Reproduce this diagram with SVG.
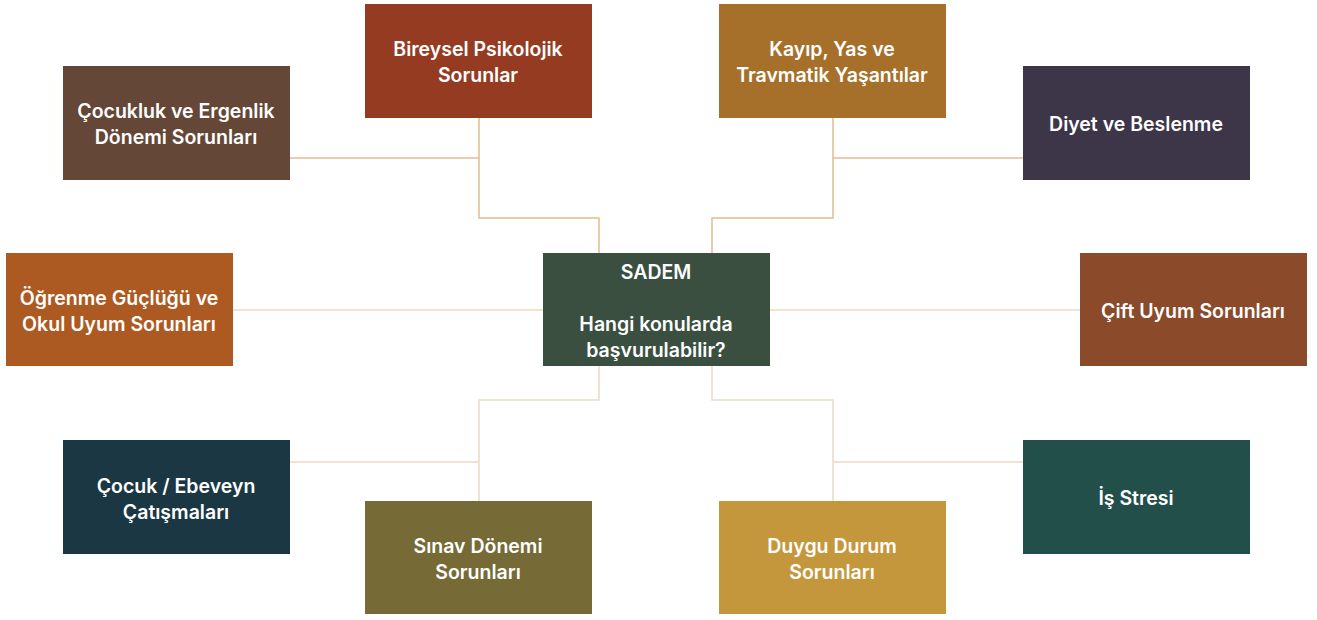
<svg xmlns="http://www.w3.org/2000/svg" width="1317" height="620" viewBox="0 0 1317 620">
<style>
text{font-family:Inter,"Liberation Sans",sans-serif;font-weight:600;font-size:19.5px;fill:#ffffff;text-anchor:middle}
.c1{fill:none;stroke:#e2bd90;stroke-width:1.5}
.c2{fill:none;stroke:#eadbc6;stroke-width:1.5}
</style>
<rect width="1317" height="620" fill="#ffffff"/>
<g id="connectors">
<path class="c1" d="M479 118V218H599V253"/>
<path class="c1" d="M290 158H479"/>
<path class="c1" d="M833 118V218H712V253"/>
<path class="c1" d="M833 158H1023"/>
<path class="c2" d="M233 310H543"/>
<path class="c2" d="M770 310H1080"/>
<path class="c2" d="M599 366V400H479V501"/>
<path class="c2" d="M290 462H479"/>
<path class="c2" d="M712 366V400H833V501"/>
<path class="c2" d="M833 462H1023"/>
</g>
<g id="center"><rect x="543" y="253" width="227" height="113" fill="#3a4f40"/>
<text x="656" y="279">SADEM</text><text x="656" y="331">Hangi konularda</text><text x="656" y="357">başvurulabilir?</text></g>
<g id="n-cocukluk"><rect x="63" y="66" width="227" height="114" fill="#654737"/>
<text x="176" y="118">Çocukluk ve Ergenlik</text><text x="176" y="144">Dönemi Sorunları</text></g>
<g id="n-bireysel"><rect x="365" y="4" width="227" height="114" fill="#953b21"/>
<text x="478" y="56">Bireysel Psikolojik</text><text x="478" y="82">Sorunlar</text></g>
<g id="n-kayip"><rect x="719" y="4" width="227" height="114" fill="#a6702b"/>
<text x="832" y="56">Kayıp, Yas ve</text><text x="832" y="82">Travmatik Yaşantılar</text></g>
<g id="n-diyet"><rect x="1023" y="66" width="227" height="114" fill="#3d3548"/>
<text x="1136" y="131">Diyet ve Beslenme</text></g>
<g id="n-ogrenme"><rect x="6" y="253" width="227" height="113" fill="#ad5922"/>
<text x="119" y="305">Öğrenme Güçlüğü ve</text><text x="119" y="331">Okul Uyum Sorunları</text></g>
<g id="n-cift"><rect x="1080" y="253" width="227" height="113" fill="#8b4a2a"/>
<text x="1193" y="318">Çift Uyum Sorunları</text></g>
<g id="n-ebeveyn"><rect x="63" y="440" width="227" height="114" fill="#1b3744"/>
<text x="176" y="493">Çocuk / Ebeveyn</text><text x="176" y="519">Çatışmaları</text></g>
<g id="n-sinav"><rect x="365" y="501" width="227" height="113" fill="#766a36"/>
<text x="478" y="553">Sınav Dönemi</text><text x="478" y="579">Sorunları</text></g>
<g id="n-duygu"><rect x="719" y="501" width="227" height="113" fill="#c5973c"/>
<text x="832" y="553">Duygu Durum</text><text x="832" y="579">Sorunları</text></g>
<g id="n-is"><rect x="1023" y="440" width="227" height="114" fill="#234f4b"/>
<text x="1136" y="505">İş Stresi</text></g>
</svg>
